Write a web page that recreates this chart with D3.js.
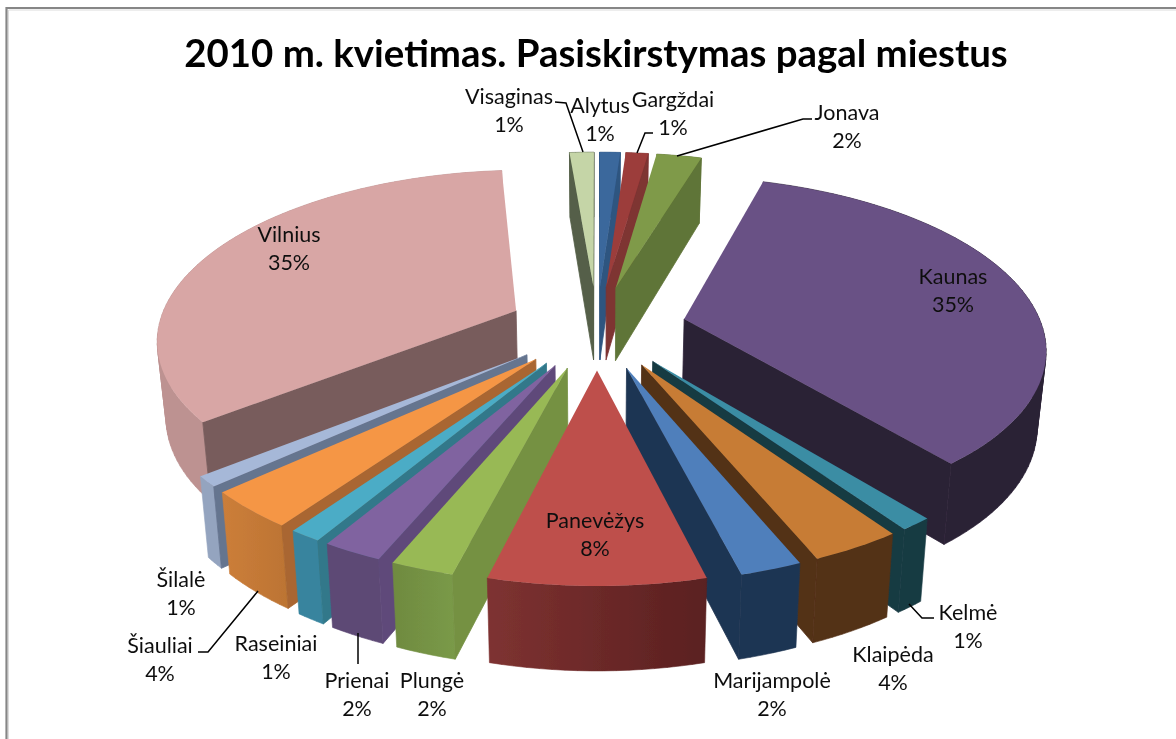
<!DOCTYPE html>
<html><head><meta charset="utf-8">
<script src="https://cdn.jsdelivr.net/npm/d3@7/dist/d3.min.js"></script>
<style>html,body{margin:0;padding:0;background:#fff}svg{display:block}</style></head>
<body><div id="chart"></div>
<script>
const title = "2010 m. kvietimas. Pasiskirstymas pagal miestus";
const cities = ["Alytus","Gargždai","Jonava","Kaunas","Kelmė","Klaipėda","Marijampolė","Panevėžys","Plungė","Prienai","Raseiniai","Šiauliai","Šilalė","Vilnius","Visaginas"];
const shares = [1.1,1.2,2.4,34.4,1.2,3.4,2.3,8.0,2.35,2.25,1.2,3.5,1.0,34.4,1.3];
const percentLabels = ["1%","1%","2%","35%","1%","4%","2%","8%","2%","2%","1%","4%","1%","35%","1%"];
const topColors = ["#3A679C","#9C3C3A","#7F9A48","#695185","#3A8DA4","#C77C35","#4F7FBB","#BE4F4C","#98B955","#8064A0","#4BACC6","#F59645","#A6B8D8","#D8A6A5","#C5D5A7"];
const radialColors = ["#2F5580","#7E3433","#5F7437","#2B2136","#183A42","#533015","#1F3552","#7A2F2E","#759142","#5F4A7A","#31788A","#A96630","#65748F","#785C5C","#545F48"];
const outerLeft = ["#2F5580","#7E3433","#5F7437","#2B2136","#183A42","#533015","#1F3552","#7E3231","#6F8A40","#5D4875","#38849E","#CC7E3A","#94A4BF","#BD9291","#545F48"];
const outerRight = ["#2F5580","#7E3433","#5F7437","#2B2136","#183A42","#533015","#1F3552","#5A2020","#7A9A48","#5D4875","#38849E","#BC7433","#94A4BF","#BD9291","#545F48"];
const labelCentres = [[600,106],[673,100],[847,113],[953,277],[968,613],[893,655],[772,681],[595,521],[432,681],[357,681],[276,644],[160,646],[181,580],[289,235],[509,97]];
const leaders = {
  "Visaginas": [[555,102],[566,103],[583,152]],
  "Gargždai": [[653,133],[645,133],[637,153]],
  "Jonava": [[812,119],[803,119],[677,156]],
  "Šiauliai": [[198,652],[208,652],[258,591]],
  "Prienai": [[358,664],[358,633]],
  "Kelmė": [[934,618],[922,618],[909,604]]
};

const W = 1176, H = 739;
const svg = d3.select("#chart").append("svg").attr("width",W).attr("height",H).attr("viewBox",[0,0,W,H]);
const defs = svg.append("defs");
defs.append("filter").attr("id","soft").attr("x","-5%").attr("y","-5%").attr("width","110%").attr("height","110%")
  .append("feGaussianBlur").attr("stdDeviation",0.45);

const root = svg.append("g").attr("filter","url(#soft)");

// frame
root.append("path").attr("d",`M6.5 ${H} V8 H${W}`).attr("fill","none").attr("stroke","#868686").attr("stroke-width",2.2);
root.append("path").attr("d",`M8.5 ${H} V10 H${W}`).attr("fill","none").attr("stroke","#dcdcdc").attr("stroke-width",1);

root.append("text").attr("x",596).attr("y",67).attr("text-anchor","middle")
  .attr("font-family","Lato, 'Open Sans', sans-serif").attr("font-weight",700).attr("font-size",38.4)
  .attr("fill","#000").text(title);

// perspective pie model
const cx = 597, cy = 327, Sx = 358, Sy = 167, persp = 0.155, explode = 0.25;
function project(X, Y, z){
  const P = 1/(1 - persp*Y);
  return [cx + Sx*X*P*(1 - 0.02*z), cy + Sy*Y*P + z*(75 + 8*Y)];
}
const pie = d3.pie().sort(null).value(d=>d.v).startAngle(0).endAngle(2*Math.PI);
const slices = pie(cities.map((c,i)=>({c,v:shares[i],i})));
const line = d3.line();

slices.forEach(s=>{
  const mid = (s.startAngle+s.endAngle)/2;
  s.ox = explode*Math.sin(mid); s.oy = -explode*Math.cos(mid);
  s.pt = (a,z,r=1)=>project(s.ox + r*Math.sin(a), s.oy - r*Math.cos(a), z);
  const n = Math.max(4, Math.ceil((s.endAngle-s.startAngle)/0.03));
  s.angles = d3.range(n+1).map(k=>s.startAngle + (s.endAngle-s.startAngle)*k/n);
});

const order = slices.slice().sort((a,b)=>a.oy-b.oy);
const g = root.append("g");
order.forEach(s=>{
  const i = s.data.i;
  const grad = defs.append("linearGradient").attr("id","o"+i);
  grad.append("stop").attr("offset","0%").attr("stop-color",outerLeft[i]);
  grad.append("stop").attr("offset","100%").attr("stop-color",outerRight[i]);

  const topArc = s.angles.map(a=>s.pt(a,0));
  const botArc = s.angles.map(a=>s.pt(a,1));
  const apex0 = s.pt(0,0,0), apex1 = s.pt(0,1,0);
  const piece = g.append("g").attr("class","slice").attr("data-city",s.data.c);

  // outer wall: union of small quads, all wound the same way so the fold at the silhouette stays filled
  const quads = d3.range(topArc.length-1).map(k=>{
    const q = [topArc[k], topArc[k+1], botArc[k+1], botArc[k]];
    if (d3.polygonArea(q) < 0) q.reverse();
    return line(q)+"Z";
  });
  piece.append("path").attr("d",quads.join("")).attr("fill",`url(#o${i})`)
    .attr("stroke",`url(#o${i})`).attr("stroke-width",0.6);
  // radial walls, back faces culled
  const wallA = [apex0, topArc[0], botArc[0], apex1];
  const wallB = [apex0, topArc[topArc.length-1], botArc[botArc.length-1], apex1];
  const wallStyle = p => p.attr("fill",radialColors[i]).attr("stroke",radialColors[i]).attr("stroke-width",0.8);
  if (d3.polygonArea(wallA) > 0) piece.append("path").attr("d",line(wallA)+"Z").call(wallStyle);
  if (d3.polygonArea(wallB) < 0) piece.append("path").attr("d",line(wallB)+"Z").call(wallStyle);
  // top surface
  piece.append("path").attr("d",line([apex0].concat(topArc))+"Z").attr("fill",topColors[i]);
});

// leaders
const lg = root.append("g").attr("fill","none").attr("stroke","#000").attr("stroke-width",1.5);
Object.entries(leaders).forEach(([k,p])=>lg.append("path").attr("d",line(p)));

// labels
const labels = root.append("g").attr("font-family","Lato, 'Open Sans', sans-serif").attr("font-size",21.5).attr("fill","#111").attr("text-anchor","middle");
slices.forEach(s=>{
  const [x,y] = labelCentres[s.data.i];
  const t = labels.append("text").attr("x",x).attr("y",y);
  t.append("tspan").attr("x",x).attr("dy","0.34em").text(s.data.c);
  t.append("tspan").attr("x",x).attr("dy","27.5").text(percentLabels[s.data.i]);
});
</script></body></html>
